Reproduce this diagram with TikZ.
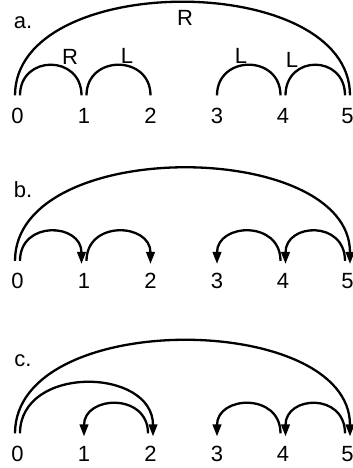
\documentclass[tikz,border=0pt]{standalone}
\usepackage{fontspec}
\setmainfont{Liberation Sans}
\usetikzlibrary{arrows.meta}
\begin{document}
\begin{tikzpicture}[x=1pt, y=1pt, line width=2.3pt, font=\fontsize{22}{26}\selectfont,
  num/.style={inner xsep=0pt, inner ysep=11pt, text height=15.8pt, text depth=0pt},
  hop/.style={-{Triangle[length=12pt, width=8.5pt]}}]
\useasboundingbox (0,0) rectangle (353,468);
% a. arcs with labels
\node (la) at (23,445) {a.};
\node[num] (a0) at (17.5,352.5) {0};
\node[num] (a1) at (84,352.5) {1};
\node[num] (a2) at (150.5,352.5) {2};
\node[num] (a3) at (217,352.5) {3};
\node[num] (a4) at (283,352.5) {4};
\node[num] (a5) at (347.5,352.5) {5};
\draw ([xshift=-2.5]a0.north) .. controls +(0,125) and +(0,125) .. ([xshift=2.5]a5.north);
\draw ([xshift=2.5]a0.north) .. controls +(0,41) and +(0,41) .. ([xshift=-2.5]a1.north);
\draw ([xshift=2.5]a1.north) .. controls +(0,41) and +(0,41) .. (a2.north);
\draw (a3.north) .. controls +(0,41) and +(0,41) .. ([xshift=-2.5]a4.north);
\draw ([xshift=2.5]a4.north) .. controls +(0,41) and +(0,41) .. ([xshift=-2.5]a5.north);
\node (r05) at (185,450) {R};
\node (r01) at (70,411) {R};
\node (l12) at (127,412) {L};
\node (l34) at (241,412) {L};
\node (l45) at (292,408) {L};
% b. directed arcs
\node (lb) at (23,278) {b.};
\node[num] (b0) at (17.5,187) {0};
\node[num] (b1) at (84,187) {1};
\node[num] (b2) at (150.5,187) {2};
\node[num] (b3) at (217,187) {3};
\node[num] (b4) at (283,187) {4};
\node[num] (b5) at (347.5,187) {5};
\draw[hop] ([xshift=-2.5]b0.north) .. controls +(0,125) and +(0,125) .. ([xshift=2.5,yshift=-3]b5.north);
\draw[hop] ([xshift=2.5]b0.north) .. controls +(0,41) and +(0,41) .. ([xshift=-2.5,yshift=-3]b1.north);
\draw[hop] ([xshift=2.5]b1.north) .. controls +(0,41) and +(0,41) .. ([yshift=-3]b2.north);
\draw[hop] ([xshift=-2.5]b4.north) .. controls +(0,41) and +(0,41) .. ([yshift=-3]b3.north);
\draw[hop] ([xshift=-2.5]b5.north) .. controls +(0,41) and +(0,41) .. ([xshift=2.5,yshift=-3]b4.north);
% c. directed arcs, 0 to 2 and back to 1
\node (lc) at (23,107) {c.};
\node[num] (c0) at (17.5,14.5) {0};
\node[num] (c1) at (84,14.5) {1};
\node[num] (c2) at (150.5,14.5) {2};
\node[num] (c3) at (217,14.5) {3};
\node[num] (c4) at (283,14.5) {4};
\node[num] (c5) at (347.5,14.5) {5};
\draw[hop] ([xshift=-2.5]c0.north) .. controls +(0,125) and +(0,125) .. ([xshift=2.5,yshift=-3]c5.north);
\draw[hop] ([xshift=2.5]c0.north) .. controls +(0,69) and +(0,69) .. ([xshift=2.5,yshift=-3]c2.north);
\draw[hop] ([xshift=-2.5]c2.north) .. controls +(0,41) and +(0,41) .. ([yshift=-3]c1.north);
\draw[hop] ([xshift=-2.5]c4.north) .. controls +(0,41) and +(0,41) .. ([yshift=-3]c3.north);
\draw[hop] ([xshift=-2.5]c5.north) .. controls +(0,41) and +(0,41) .. ([xshift=2.5,yshift=-3]c4.north);
\end{tikzpicture}
\end{document}
